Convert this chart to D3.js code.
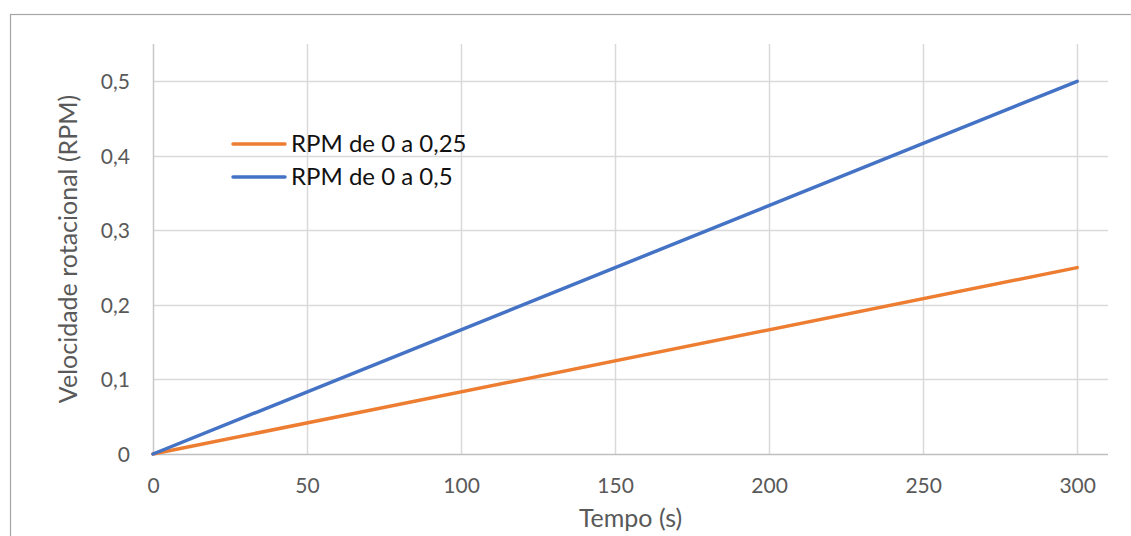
<!DOCTYPE html>
<html><head><meta charset="utf-8">
<script src="https://cdn.jsdelivr.net/npm/d3@7"></script>
<style>
html,body{margin:0;padding:0;background:#fff;}
svg{display:block;font-family:Lato,"Open Sans",sans-serif;}
</style></head>
<body>
<svg id="c" width="1131" height="536"></svg>
<script>
const times = [0, 300];
const seriesNames = ["RPM de 0 a 0,25", "RPM de 0 a 0,5"];
const rpmSlow = [0, 0.25];
const rpmFast = [0, 0.5];
const xTicks = [0, 50, 100, 150, 200, 250, 300];
const yTicks = [0, 0.1, 0.2, 0.3, 0.4, 0.5];
const colors = ["#ED7D31", "#4472C4"];

const svg = d3.select("#c");
const W = 1131, H = 536;
const m = {left:153, right:W-1108, top:44, bottom:H-454};
const x = d3.scaleLinear().domain([0, 310]).range([m.left, W-m.right]);
const y = d3.scaleLinear().domain([0, 0.55]).range([H-m.bottom, m.top]);

// chart border
svg.append("rect").attr("x",10.5).attr("y",14.5).attr("width",1140).attr("height",540)
  .attr("fill","none").attr("stroke","#a6a6a6").attr("stroke-width",1.2);

// gridlines
const g = svg.append("g");
g.selectAll(".hg").data(yTicks.filter(d=>d>0)).join("line")
  .attr("x1",x.range()[0]).attr("x2",x.range()[1])
  .attr("y1",d=>Math.round(y(d))+0.5).attr("y2",d=>Math.round(y(d))+0.5)
  .attr("stroke","#d9d9d9").attr("stroke-width",1.5);
g.selectAll(".vg").data(xTicks.filter(d=>d>0)).join("line")
  .attr("y1",y.range()[0]).attr("y2",y.range()[1])
  .attr("x1",d=>Math.round(x(d))+0.5).attr("x2",d=>Math.round(x(d))+0.5)
  .attr("stroke","#d9d9d9").attr("stroke-width",1.5);

// axes lines
svg.append("line").attr("x1",x.range()[0]).attr("x2",x.range()[1])
  .attr("y1",y(0)+0.5).attr("y2",y(0)+0.5).attr("stroke","#bfbfbf").attr("stroke-width",1.5);
svg.append("line").attr("x1",x(0)+0.5).attr("x2",x(0)+0.5)
  .attr("y1",y.range()[0]).attr("y2",y.range()[1]).attr("stroke","#c8c8c8").attr("stroke-width",1.5);

// axes via d3
const fmt = d3.formatLocale({decimal:",", thousands:".", grouping:[3], currency:["",""]});
const xAxis = d3.axisBottom(x).tickValues(xTicks).tickSize(0).tickPadding(24);
const yAxis = d3.axisLeft(y).tickValues(yTicks).tickSize(0).tickPadding(23)
  .tickFormat(d=> d===0 ? "0" : fmt.format(".1f")(d));
const gx = svg.append("g").attr("transform",`translate(0,${y(0)})`).call(xAxis);
const gy = svg.append("g").attr("transform",`translate(${x(0)},0)`).call(yAxis);
[gx,gy].forEach(a=>{
  a.select(".domain").remove();
  a.selectAll("text").attr("fill","#595959").style("font-size","21px").style("font-family","Lato, 'Open Sans', sans-serif");
});
gy.selectAll("text").attr("dy","0.35em");
gx.selectAll("text").attr("dy","0.71em");

// series
const series = [rpmSlow, rpmFast];
const line = d3.line().x((d,i)=>x(times[i])).y(d=>y(d));
series.forEach((s,k)=>{
  svg.append("path").datum(s).attr("d",line).attr("fill","none")
    .attr("stroke",colors[k]).attr("stroke-width",3.5).attr("stroke-linecap","round");
});

// legend
const lg = svg.append("g");
seriesNames.forEach((n,k)=>{
  const yy = 144 + k*33;
  lg.append("line").attr("x1",233).attr("x2",285).attr("y1",yy).attr("y2",yy)
    .attr("stroke",colors[k]).attr("stroke-width",3.5).attr("stroke-linecap","round");
  lg.append("text").attr("x",291).attr("y",yy).attr("dy","0.35em")
    .attr("fill","#111").style("font-size","24px").text(n);
});

// titles
svg.append("text").attr("x",(x.range()[0]+x.range()[1])/2).attr("y",527)
  .attr("text-anchor","middle").attr("fill","#595959").style("font-size","25px").text("Tempo (s)");
svg.append("text").attr("transform",`translate(77,${(y.range()[0]+y.range()[1])/2}) rotate(-90)`)
  .attr("text-anchor","middle").attr("fill","#595959").style("font-size","25px")
  .text("Velocidade rotacional (RPM)");
</script>
</body></html>
